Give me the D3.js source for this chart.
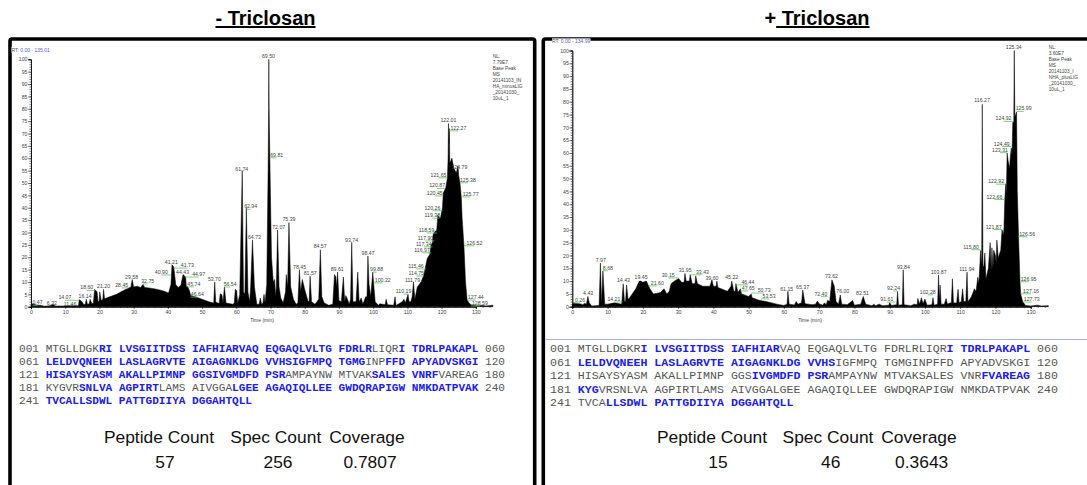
<!DOCTYPE html>
<html>
<head>
<meta charset="utf-8">
<script src="https://cdn.jsdelivr.net/npm/d3@7"></script>
<style>
  html, body { margin: 0; padding: 0; background: #fff; overflow: hidden; }
  svg { display: block; }
  text { font-family: "Liberation Sans", Arial, sans-serif; }
</style>
</head>
<body>
<svg id="chart" width="1087" height="485"></svg>
<script>
// chromatogram traces, [time in min, relative abundance]
const minusTrace = [[0,.4],[.47,1.2],[1.5,.7],[3,.5],[4,.2],[5.5,.4],[6.32,.9],[7.2,.3],[10,.3],[11.46,.4],[13.9,.4],[14.07,2.8],[14.8,2.2],[15.4,.9],[15.9,1],[16.14,3],[16.5,1],[17,1.1],[17.3,3],[17.8,1.2],[18.2,1.4],[18.6,7],[19.3,6],[19.6,2],[19.9,2.2],[20.1,6],[20.5,2.5],[21,3],[21.2,7],[21.5,3.2],[23,4],[25,5],[27,6.5],[28.45,7.5],[29.2,8],[29.58,11],[30,8],[31,8.3],[32,7.8],[32.75,9],[33.2,7.8],[35,7.5],[37,7],[39,6.2],[40.2,5.5],[40.9,9],[41.21,17],[41.73,16],[42.3,9],[43,7.8],[43.8,8.7],[44.43,13],[45.2,12],[45.4,8],[45.74,8.2],[46.3,6.5],[46.64,4.5],[48,4],[50,3],[52,2],[53.4,1.5],[53.7,10],[54,1.8],[55,1.3],[55.3,5.2],[55.8,4.8],[56.1,1.6],[56.54,8],[57,1.5],[59,1],[59.4,1.5],[59.7,7],[60.1,6.5],[60.4,1.2],[61,5],[61.74,55],[62.1,6],[62.5,5],[62.94,40],[63.4,6],[63.9,2],[64.2,8],[64.73,27],[65.3,8],[66,1],[66.7,1],[67,3.5],[67.4,1],[67.8,1.5],[68.1,5],[68.4,1.5],[68.9,9],[69.3,55],[69.45,80],[69.5,100],[69.6,80],[69.81,60],[70.1,35],[70.3,20],[70.8,10],[71.2,11],[71.5,4],[71.7,8],[72.07,31],[72.5,8],[73,3.5],[73.7,1.5],[74.4,6],[74.6,13],[75,8],[75.39,34],[75.9,8],[76.7,3],[77.5,1],[78,1.5],[78.45,15],[78.8,6],[79.3,11],[80,7],[81,2],[81.3,2.5],[81.57,12.3],[82,2],[83,1],[84.1,3],[84.57,23],[85,4],[85.7,1.5],[87,.6],[88.2,1],[88.7,13],[89.1,12],[89.3,8],[89.61,14],[90,2.5],[90.7,2],[91.3,12],[91.7,2],[92,4.5],[92.5,3],[93,1],[93.4,3],[93.74,26],[94.1,2],[95,2],[95.5,14],[95.9,2],[96.5,3.5],[97,1],[97.8,4],[98.2,4],[98.47,20.5],[98.8,9],[99.3,4],[99.88,14],[100.22,8],[100.6,2],[101.5,.6],[102,1.2],[103.5,.8],[103.8,3],[104.2,.8],[106,.6],[106.4,4],[106.7,.5],[108.5,2],[109,3],[109.4,1.5],[110.19,5],[110.5,2],[111,2],[111.4,4],[111.79,10],[112.2,3],[112.9,8],[114,10],[114.75,12.5],[115.3,16],[115.8,19.5],[116.5,21],[116.97,25],[117.34,26],[117.5,29],[117.8,30],[118.59,31],[118.9,37],[119.38,36],[119.7,36],[120.26,40],[120.5,46],[120.87,47],[121.2,48],[121.7,52],[121.9,60],[122.01,74],[122.15,66],[122.27,72],[122.4,58],[123,60],[123.6,56],[124.3,54],[124.79,57],[125,53],[125.38,50],[125.77,44],[126,36],[126.52,25],[127,10],[127.44,3],[128,1.5],[128.59,.8],[130,.4],[132,.5],[133,.3],[135,.6]];

const plusTrace = [[0,.5],[.26,1.5],[2,1.2],[3,.8],[3.5,1.3],[4,1],[4.43,4],[4.8,1.5],[5.5,.3],[7.6,.5],[7.97,17],[8.3,1],[8.68,14],[9.2,1],[10,1],[12,1.5],[14,1],[14.43,9],[14.8,2],[15.1,2],[15.4,8.5],[15.8,3],[16,3],[17,5],[18,7],[19,10],[19.45,10],[20,9.5],[21,10],[22,7],[23,5],[25,5.5],[26,7],[26.8,5],[27.5,6],[28,9],[29,10],[30.15,11],[31,9.5],[31.7,9.5],[31.95,13],[32.3,10],[33.2,10],[33.43,12.5],[34,9],[34.8,9],[35,12],[35.5,9],[37,8],[39,8],[39.6,10.5],[40,8],[40.8,8],[41,10],[41.3,7.5],[44,6],[45,8],[45.22,10],[45.8,6],[46.2,6],[46.4,9],[47,5.5],[47.65,7],[48,5],[50,4],[50.73,5],[51,3.5],[53,2.5],[55,2],[58,1],[60,.5],[60.9,1],[61.15,6],[61.5,1],[63,.7],[63.5,2],[64,1],[65,1.5],[65.37,6.5],[66,1.2],[68,.8],[69,1],[69.5,2.2],[70,1.2],[71,.6],[71.5,1.5],[72,.8],[72.4,2.5],[73,2],[73.62,10.5],[74.3,8],[74.8,2],[75.5,1],[76,4.6],[76.4,1],[78,.8],[79.5,2.4],[80,.6],[81.8,1],[82.51,4],[83.2,1],[85,.4],[85.5,1],[86,.4],[87,1],[88,.4],[89.8,.6],[90,1.6],[90.5,.5],[92,.8],[92.24,6],[92.5,.6],[93.6,.8],[93.84,14.4],[94.1,.8],[96,.4],[97,1],[97.8,.8],[98,3.2],[98.5,1],[99,3.5],[99.5,1.2],[100,3],[100.6,.6],[102,.8],[102.28,3.5],[102.6,.6],[103.6,1],[103.87,12.4],[104.1,2],[104.3,8.5],[104.6,1],[105.5,1],[106,3.2],[106.4,1],[107,1.4],[107.5,1.5],[107.8,10.9],[108.1,1.5],[109,1.4],[109.4,6.8],[109.7,1.5],[110.3,2],[110.7,7],[111,2],[111.6,2],[111.94,13.5],[112.2,2],[113,3.5],[113.5,5],[114,7],[114.5,6],[115,11.5],[115.3,9],[115.8,22],[116.1,16],[116.27,79],[116.45,16],[116.7,15.7],[117,21],[117.3,11],[117.5,12],[118,15],[118.5,25],[118.8,14],[119,23],[119.3,15],[119.5,22],[120,20],[120.2,17],[120.4,26],[120.8,19],[121,20],[121.5,22],[121.87,30],[122.2,28],[122.4,30],[122.66,42],[122.92,48],[123.1,44],[123.31,60],[123.6,57],[124,54],[124.2,58],[124.49,62],[124.7,59],[124.92,72],[125.2,72],[125.34,100],[125.5,74],[125.99,76],[126.2,45],[126.56,27],[126.95,10],[127.16,5],[127.73,2],[128.5,.5],[130,.3],[132,.6],[133,.3],[135,.4]];

// labelled peaks, [retention time, label time, label height]
const minusLabels = [["0.47",1.9,1.8],["6.32",6.1,1.5],["11.46",11.4,1],["14.07",9.9,3.8],["16.14",15.8,4.2],["18.60",16.3,7.8],["21.20",21.2,8.2],["28.45",26.5,8.8],["29.58",29.4,12],["32.75",34.1,10.4],["40.90",38.1,14],["41.21",41,18],["41.73",45.7,16.8],["44.43",44.3,14],["44.97",49,13.2],["45.74",47.6,9.2],["46.64",48.6,5.1],["53.70",53.6,11.2],["56.54",58.2,9.2],["61.74",61.6,55.7],["62.94",64.2,40.6],["64.73",65.3,28],["69.50",69.4,101.5],["69.81",71.8,61.4],["72.07",72.4,32.3],["75.39",75.4,35.5],["78.45",78.5,16],["81.57",81.6,13.6],["84.57",84.5,24.6],["89.61",89.5,15.2],["93.74",93.7,27],["98.47",98.5,21.7],["99.88",101,15.2],["100.22",102.8,10.8],["110.19",108.9,6.3],["111.79",111.5,10.8],["114.75",112.6,13.6],["115.46",112.5,16.5],["116.97",114.3,23],["117.34",114.8,25.4],["117.90",115.3,27.8],["118.59",115.6,31],["119.38",117.3,37],["120.26",117.3,40],["120.45",118,46],["120.87",118.7,49],["121.65",119.1,53.3],["122.01",122,75.6],["122.27",124.9,72.3],["124.79",125.2,56.5],["125.38",127.7,51.3],["125.77",128.5,45.6],["126.52",129.6,25.8],["127.44",130,3.9],["128.59",131.2,1.5]];

const plusLabels = [["0.26",2.2,2.6],["4.43",4.5,5.4],["7.97",8.1,18.3],["8.68",10.1,15.2],["14.21",11.8,3],["14.43",14.5,10.5],["19.45",19.5,11.6],["21.60",24.1,9.3],["30.15",27.2,12.4],["31.95",32,14.4],["33.43",36.9,13.6],["39.60",39.6,11.3],["45.22",45.2,11.6],["46.44",49.8,9.7],["47.65",49.9,7.3],["50.73",54.4,6.5],["53.53",55.8,4.2],["61.15",60.8,6.9],["65.37",65.3,7.7],["72.40",70.5,5.1],["73.62",73.5,12],["76.00",76.7,6.2],["82.51",82.3,5.4],["93.84",93.9,15.6],["91.61",89.2,3],["92.24",91.1,7.3],["102.28",100.8,5.8],["103.87",103.9,13.6],["111.94",111.9,14.8],["115.80",113.1,23.4],["116.27",116.2,80.5],["122.92",120.2,49],["122.66",119.7,43],["121.87",119.5,31.3],["123.31",121.3,61.3],["124.49",121.8,63.7],["124.92",122.3,73.5],["125.34",125.2,101.2],["125.99",128,77.4],["126.56",129,28.5],["126.95",129.4,10.9],["127.16",130.1,6.2],["127.73",130.3,3]];

const minusNote = ["NL:", "7.79E7", "Base Peak", "MS", "20141103_IN", "HA_minusLIG", "_20141030_", "10uL_1"];
const plusNote = ["NL:", "3.60E7", "Base Peak", "MS", "20141103_I", "NHA_plusLIG", "_20141030_", "10uL_1"];

const xTicks = d3.range(0, 131, 10);
const yTicks = d3.range(0, 101, 5);

// protein sequence, one string per row, and covered residue ranges [start, end)
const sequenceRows = [
  "MTGLLDGKRILVSGIITDSSIAFHIARVAQEQGAQLVLTGFDRLRLIQRITDRLPAKAPL",
  "LELDVQNEEHLASLAGRVTEAIGAGNKLDGVVHSIGFMPQTGMGINPFFDAPYADVSKGI",
  "HISAYSYASMAKALLPIMNPGGSIVGMDFDPSRAMPAYNWMTVAKSALESVNRFVAREAG",
  "KYGVRSNLVAAGPIRTLAMSAIVGGALGEEAGAQIQLLEEGWDQRAPIGWNMKDATPVAK",
  "TVCALLSDWLPATTGDIIYADGGAHTQLL"
];
const minusCoverage = [[8,45],[49,104],[107,153],[165,174],[185,196],[206,269]];
const plusCoverage = [[9,27],[49,94],[143,153],[173,183],[244,269]];

const statHeaders = ["Peptide Count", "Spec Count", "Coverage"];
const minusStats = ["57", "256", "0.7807"];
const plusStats = ["15", "46", "0.3643"];

const svg = d3.select('#chart');

function drawPanel(p) {
  const x = d3.scaleLinear().domain([0, 130]).range([p.x0, p.x130]);
  const y = d3.scaleLinear().domain([0, 100]).range([306.7, p.yTop]);
  const g = svg.append('g');

  // frame runs off the bottom of the picture
  g.append('rect')
    .attr('x', p.frame[0]).attr('y', 39)
    .attr('width', p.frame[1] - p.frame[0]).attr('height', 480)
    .attr('rx', 2)
    .attr('fill', 'none').attr('stroke', '#000').attr('stroke-width', 3.6);

  g.append('text')
    .attr('x', (p.titleX)).attr('y', 25)
    .attr('text-anchor', 'middle')
    .style('font-size', '20px').style('font-weight', 'bold')
    .selectAll('tspan')
    .data(p.title)
    .join('tspan')
    .style('text-decoration', (d, i) => i === 0 && p.plainFirst ? 'none' : 'underline')
    .text(d => d);

  const area = d3.area()
    .x(d => x(d[0]))
    .y0(y(0))
    .y1(d => y(d[1]));
  g.append('path')
    .datum(p.trace)
    .attr('d', area)
    .attr('fill', '#000').attr('stroke', '#000').attr('stroke-width', 0.5);

  // axes, minor ticks first
  const minorY = d3.axisLeft(y).tickValues(d3.range(0, 101, 1)).tickSize(1.6).tickFormat('');
  const majorY = d3.axisLeft(y).tickValues(yTicks).tickSize(3).tickPadding(0.5);
  const minorX = d3.axisBottom(x).tickValues(d3.range(0, 135, 2)).tickSize(1.2).tickFormat('');
  const majorX = d3.axisBottom(x).tickValues(xTicks).tickSize(2.4).tickPadding(1.5);
  [minorY, majorY].forEach(a => g.append('g').attr('transform', `translate(${p.x0},0)`).call(a));
  [minorX, majorX].forEach(a => g.append('g').attr('transform', 'translate(0,306.7)').call(a));
  g.selectAll('.domain').attr('stroke-width', 0.7);
  g.selectAll('.tick line').attr('stroke-width', 0.5);
  g.selectAll('.tick text').style('font-size', '5.2px').style('font-family', '"Liberation Sans"').attr('fill', '#444');

  g.append('text')
    .attr('x', p.timeX).attr('y', 322)
    .attr('text-anchor', 'middle')
    .attr('fill', '#444').style('font-size', '5px')
    .text('Time (min)');

  // green leaders for labels pushed off their peak
  g.selectAll('.leader')
    .data(p.labels.filter(d => Math.abs(+d[0] - d[1]) > 1))
    .join('line')
    .attr('class', 'leader')
    .attr('x1', d => x(+d[0])).attr('x2', d => x(d[1]))
    .attr('y1', d => y(d[2]) + 3).attr('y2', d => y(d[2]) + 3)
    .attr('stroke', '#5cc45c').attr('stroke-width', 0.8);

  g.selectAll('.peak-label')
    .data(p.labels)
    .join('text')
    .attr('class', 'peak-label')
    .attr('x', d => x(d[1])).attr('y', d => y(d[2]) + 2)
    .attr('text-anchor', 'middle')
    .attr('fill', '#444').style('font-size', '5.2px')
    .text(d => d[0]);

  // the RT caption sits on a white patch that bites into the frame
  const rt = g.append('text')
    .attr('x', p.rtPos[0]).attr('y', p.rtPos[1])
    .style('font-size', '5px').attr('fill', '#555');
  rt.append('tspan').text('RT: ');
  rt.append('tspan').attr('fill', '#5a5ac8').text(p.range);
  const box = rt.node().getBBox();
  g.insert('rect', () => rt.node())
    .attr('x', box.x).attr('y', box.y)
    .attr('width', box.width).attr('height', box.height)
    .attr('fill', '#fff');

  g.selectAll('.note')
    .data(p.note)
    .join('text')
    .attr('class', 'note')
    .attr('x', p.notePos[0]).attr('y', (d, i) => p.notePos[1] + i * 6)
    .attr('fill', '#444').style('font-size', '4.8px')
    .text(d => d);

  // sequence block, covered residues in bold blue
  sequenceRows.forEach((row, r) => {
    const first = r * 60;
    const t = g.append('text')
      .attr('x', p.seqX).attr('y', p.seqY + r * p.seqStep)
      .style('font-family', '"Liberation Mono", monospace')
      .style('font-size', p.seqSize + 'px')
      .style('white-space', 'pre');
    t.append('tspan').attr('fill', '#555').text(d3.format('03d')(first + 1) + ' ');
    let run = '', runCovered = null;
    const flush = () => {
      if (!run) return;
      t.append('tspan')
        .attr('fill', runCovered ? '#2020e8' : '#555')
        .style('font-weight', runCovered ? 'bold' : 'normal')
        .text(run);
      run = '';
    };
    row.split('').forEach((c, i) => {
      const idx = first + i;
      const covered = p.coverage.some(k => idx >= k[0] && idx < k[1]);
      if (covered !== runCovered) { flush(); runCovered = covered; }
      run += c;
      if (i % 10 === 9 && i < row.length - 1) run += ' ';
    });
    flush();
    if (row.length === 60) t.append('tspan').attr('fill', '#555').text(' ' + d3.format('03d')(first + 60));
  });

  // stats table
  statHeaders.forEach((h, i) => {
    g.append('text')
      .attr('x', p.headX[i]).attr('y', 442.5)
      .attr('text-anchor', 'middle')
      .attr('fill', '#111').style('font-size', '17.4px')
      .text(h);
    g.append('text')
      .attr('x', p.valX[i]).attr('y', 468)
      .attr('text-anchor', 'middle')
      .attr('fill', '#111').style('font-size', '17.4px')
      .text(p.stats[i]);
  });
}

drawPanel({
  title: ['- Triclosan'], titleX: 265.5, plainFirst: false,
  frame: [10, 534.7], x0: 31, x130: 475.8, yTop: 59.3, timeX: 262,
  trace: minusTrace, labels: minusLabels, note: minusNote, notePos: [492.7, 57.5],
  range: '0.00 - 135.01', rtPos: [11.5, 51.6],
  seqX: 19, seqY: 351.7, seqStep: 13.1, seqSize: 11.1, coverage: minusCoverage,
  headX: [159, 275.8, 367], valX: [165, 278, 370], stats: minusStats
});

drawPanel({
  title: ['+', ' Triclosan'], titleX: 817, plainFirst: true,
  frame: [543.3, 1100], x0: 572.3, x130: 1030.7, yTop: 50.5, timeX: 810,
  trace: plusTrace, labels: plusLabels, note: plusNote, notePos: [1048.7, 48.5],
  range: '0.00 - 134.99', rtPos: [552, 43.4],
  seqX: 550, seqY: 352, seqStep: 13.6, seqSize: 11.6, coverage: plusCoverage,
  headX: [712, 828, 919], valX: [718, 830.7, 921.7], stats: plusStats
});

// rule above the right sequence block
svg.append('line')
  .attr('x1', 545.5).attr('x2', 1087)
  .attr('y1', 339.5).attr('y2', 339.5)
  .attr('stroke', '#a4b2ea').attr('stroke-width', 1.2);
</script>
</body>
</html>
